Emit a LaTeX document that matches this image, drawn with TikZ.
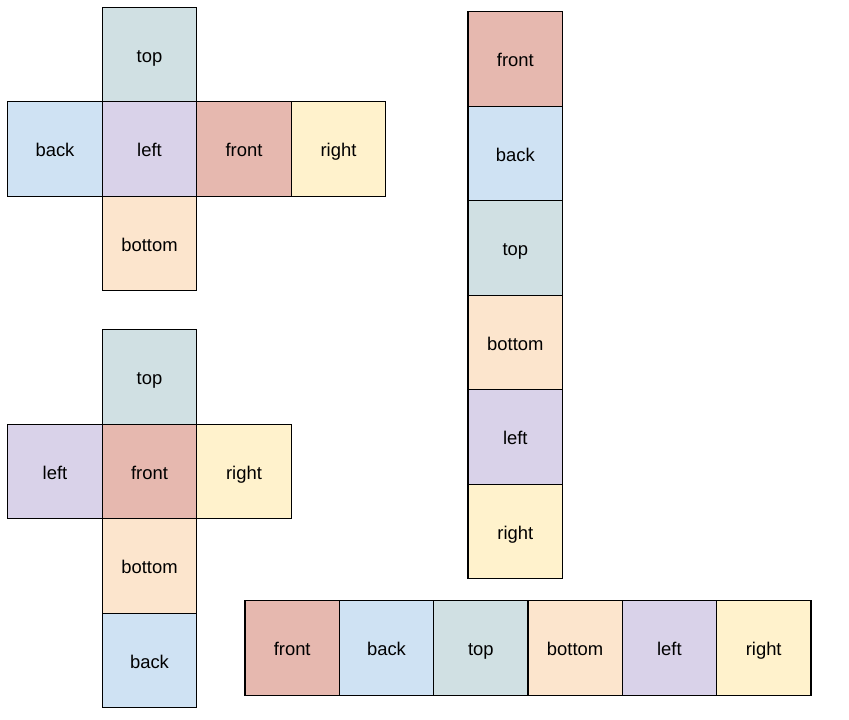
\documentclass[tikz,border=0pt]{standalone}
\usepackage{fontspec}
\setmainfont{Liberation Sans}
\definecolor{ctop}{HTML}{D0E0E3}
\definecolor{cback}{HTML}{CFE2F3}
\definecolor{cleft}{HTML}{D9D2E9}
\definecolor{cfront}{HTML}{E6B8AF}
\definecolor{cright}{HTML}{FFF2CC}
\definecolor{cbottom}{HTML}{FCE5CD}
\tikzset{
  face/.style={draw=black, line width=1.3bp, minimum width=94.5bp, minimum height=94.5bp,
    inner sep=0pt, outer sep=0pt, font=\fontsize{18.4bp}{20bp}\selectfont,
    text height=17.5bp, text depth=2bp},
  sface/.style={face, minimum width=94.3bp},
  top/.style={fill=ctop}, back/.style={fill=cback}, lft/.style={fill=cleft},
  front/.style={fill=cfront}, rgt/.style={fill=cright}, bot/.style={fill=cbottom}
}
\begin{document}
\begin{tikzpicture}[x=1bp,y=-1bp]
\useasboundingbox (0,0) rectangle (849,720);
% net 1
\node[face,top]   (a1) at (149.5,54.5) {top};
\node[face,back]  (a2) at (55,149) {back};
\node[face,lft]   (a3) at (149.5,149) {left};
\node[face,front] (a4) at (244,149) {front};
\node[face,rgt]   (a5) at (338.5,149) {right};
\node[face,bot]   (a6) at (149.5,243.5) {bottom};
% net 2
\node[face,top]   (b1) at (149.5,377) {top};
\node[face,lft]   (b2) at (55,471.5) {left};
\node[face,front] (b3) at (149.5,471.5) {front};
\node[face,rgt]   (b4) at (244,471.5) {right};
\node[face,bot]   (b5) at (149.5,566) {bottom};
\node[face,back]  (b6) at (149.5,660.5) {back};
% column
\node[face,front] (c1) at (515.3,59) {front};
\node[face,back]  (c2) at (515.3,153.5) {back};
\node[face,top]   (c3) at (515.3,248) {top};
\node[face,bot]   (c4) at (515.3,342.5) {bottom};
\node[face,lft]   (c5) at (515.3,437) {left};
\node[face,rgt]   (c6) at (515.3,531.5) {right};
% strip
\node[sface,front] (d1) at (292.2,648) {front};
\node[sface,back]  (d2) at (386.5,648) {back};
\node[sface,top]   (d3) at (480.8,648) {top};
\node[sface,bot]   (d4) at (575.1,648) {bottom};
\node[sface,lft]   (d5) at (669.4,648) {left};
\node[sface,rgt]   (d6) at (763.7,648) {right};
\end{tikzpicture}
\end{document}
